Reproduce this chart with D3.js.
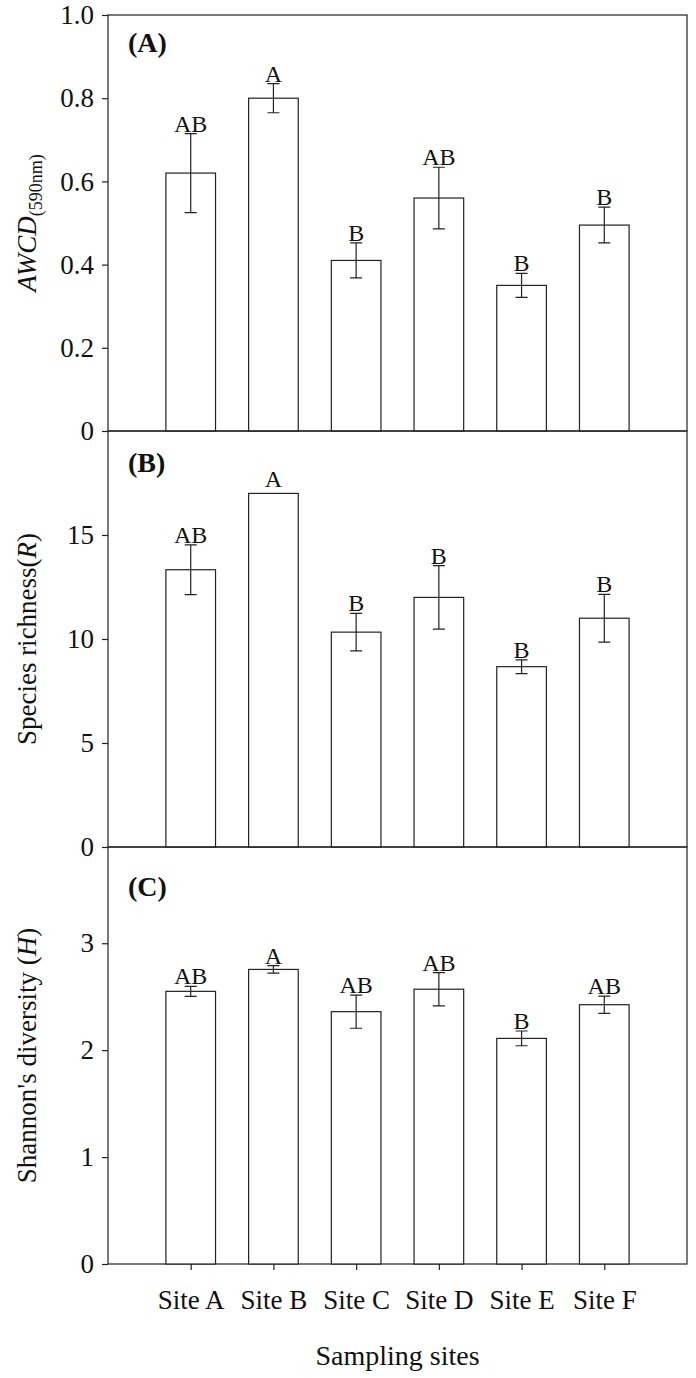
<!DOCTYPE html>
<html lang="en">
    <head>
        <meta charset="utf-8">
        <style>
            body { margin: 0; background: #fff; }
            svg text { font-family: "Liberation Serif", "Times New Roman", serif; fill: #111; }
            .bar { fill: #fff; stroke: #222; stroke-width: 1.2px; }
            .err { stroke: #222; stroke-width: 1.2px; fill: none; }
            .frame { fill: none; stroke: #222; stroke-width: 1.2px; }
            .axis path, .axis line { stroke: #222; stroke-width: 1.2px; }
            .axis text { font-size: 27px; fill: #111; }
        </style>
        <script src="https://d3js.org/d3.v7.min.js"></script>
        <title>Sampling sites</title>
    </head>
    <body>
        <div id="chart"></div>
        <script>
            // data
            var sites = ["Site A", "Site B", "Site C", "Site D", "Site E", "Site F"];

            var awcdMean = [0.62, 0.80, 0.41, 0.56, 0.35, 0.495];
            var awcdErr  = [0.095, 0.035, 0.042, 0.074, 0.029, 0.043];
            var awcdLetters = ["AB", "A", "B", "AB", "B", "B"];
            var awcdTicks = [0, 0.2, 0.4, 0.6, 0.8, 1.0];

            var richMean = [13.33, 17, 10.33, 12, 8.67, 11];
            var richErr  = [1.2, 0, 0.9, 1.53, 0.33, 1.15];
            var richLetters = ["AB", "A", "B", "B", "B", "B"];
            var richTicks = [0, 5, 10, 15];

            var shanMean = [2.55, 2.755, 2.36, 2.57, 2.11, 2.425];
            var shanErr  = [0.047, 0.035, 0.155, 0.156, 0.069, 0.081];
            var shanLetters = ["AB", "A", "AB", "AB", "B", "AB"];
            var shanTicks = [0, 1, 2, 3];

            var width = 696, height = 1378;
            var left = 108, right = 687;

            var svg = d3.select("#chart")
                .append("svg")
                    .attr("width", width)
                    .attr("height", height);

            // sites sit at 1..6 on a 0..7 axis
            var x = d3.scaleLinear()
                .domain([0, sites.length + 1])
                .range([left, right]);
            var barW = x(0.6) - x(0);

            var panels = [
                {top: 15, bottom: 431, max: 1.0, ticks: awcdTicks, fmt: d3.format(".1f"),
                 mean: awcdMean, err: awcdErr, letters: awcdLetters, tag: "(A)", tagY: 52},
                {top: 431, bottom: 847, max: 20, ticks: richTicks, fmt: d3.format("d"),
                 mean: richMean, err: richErr, letters: richLetters, tag: "(B)", tagY: 472},
                {top: 847, bottom: 1264, max: 3.9, ticks: shanTicks, fmt: d3.format("d"),
                 mean: shanMean, err: shanErr, letters: shanLetters, tag: "(C)", tagY: 896}
            ];

            panels.forEach(function(p, i) {
                var y = d3.scaleLinear()
                    .domain([0, p.max])
                    .range([p.bottom, p.top]);
                var g = svg.append("g");

                g.append("rect")
                    .attr("class", "frame")
                    .attr("x", left)
                    .attr("y", p.top)
                    .attr("width", right - left)
                    .attr("height", p.bottom - p.top);

                g.append("g")
                    .attr("class", "axis")
                    .attr("transform", "translate(" + left + ",0)")
                    .call(d3.axisLeft(y).tickValues(p.ticks).tickFormat(function(d) {
                        return d === 0 ? "0" : p.fmt(d);
                    }).tickSize(6).tickPadding(8).tickSizeOuter(0))
                    .call(function(a) { a.select(".domain").remove(); });

                g.selectAll(".bar")
                    .data(p.mean)
                    .enter()
                    .append("rect")
                        .attr("class", "bar")
                        .attr("x", function(d, j) { return x(j + 1) - barW / 2; })
                        .attr("y", function(d) { return y(d); })
                        .attr("width", barW)
                        .attr("height", function(d) { return p.bottom - y(d); });

                p.mean.forEach(function(m, j) {
                    var cx = x(j + 1), e = p.err[j];
                    if (e > 0) {
                        g.append("path")
                            .attr("class", "err")
                            .attr("d", "M" + cx + "," + y(m - e) + "V" + y(m + e) +
                                "M" + (cx - 6) + "," + y(m + e) + "H" + (cx + 6) +
                                "M" + (cx - 6) + "," + y(m - e) + "H" + (cx + 6));
                    }
                    g.append("text")
                        .attr("x", cx)
                        .attr("y", y(m + e) - (e > 0 ? 2 : 6))
                        .attr("text-anchor", "middle")
                        .style("font-size", "24px")
                        .text(p.letters[j]);
                });

                g.append("text")
                    .attr("x", 128)
                    .attr("y", p.tagY)
                    .style("font-size", "28px")
                    .style("font-weight", "bold")
                    .text(p.tag);

                var title = g.append("text")
                    .attr("transform", "translate(36," + ((p.top + p.bottom) / 2) + ") rotate(-90)")
                    .attr("text-anchor", "middle")
                    .style("font-size", "27px");
                if (i === 0) {
                    title.append("tspan").style("font-style", "italic").text("AWCD");
                    title.append("tspan").attr("dy", 6).style("font-size", "18px").text("(590nm)");
                } else if (i === 1) {
                    title.append("tspan").text("Species richness(");
                    title.append("tspan").style("font-style", "italic").text("R");
                    title.append("tspan").text(")");
                } else {
                    title.append("tspan").text("Shannon's diversity (");
                    title.append("tspan").style("font-style", "italic").text("H");
                    title.append("tspan").text(")");
                }
            });

            // x axis under the last panel
            svg.append("g")
                .attr("class", "axis")
                .attr("transform", "translate(0,1264)")
                .call(d3.axisBottom(x).tickValues(d3.range(1, sites.length + 1))
                    .tickFormat(function(d) { return sites[d - 1]; })
                    .tickSize(6).tickPadding(20).tickSizeOuter(0))
                .call(function(a) { a.select(".domain").remove(); });

            svg.append("text")
                .attr("x", (left + right) / 2)
                .attr("y", 1365)
                .attr("text-anchor", "middle")
                .style("font-size", "28px")
                .text("Sampling sites");
        </script>
    </body>
</html>
